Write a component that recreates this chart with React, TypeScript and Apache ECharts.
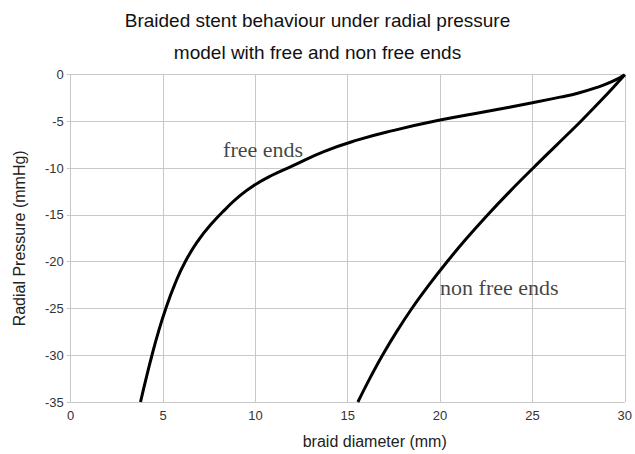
import React, { useEffect, useRef } from "react";
import * as echarts from "echarts";

const titleLines = [
  "Braided stent behaviour under radial pressure",
  "model with free and non free ends",
];
const xAxisName = "braid diameter (mm)";
const yAxisName = "Radial Pressure (mmHg)";

const freeEnds: [number, number][] = [
  [3.78, -35], [4.08, -32.5], [4.4, -30], [4.75, -27.5], [5.15, -25],
  [5.62, -22.5], [6.2, -20], [6.95, -17.6], [7.6, -16.0], [8.37, -14.4],
  [9.15, -12.95], [10.0, -11.75], [10.9, -10.75], [11.95, -9.8], [13.74, -8.2],
  [15.5, -7.0], [17.5, -5.95], [20, -4.85], [22.5, -3.93], [25, -3.0],
  [26.5, -2.4], [27.5, -1.95], [28.5, -1.35], [29.3, -0.75], [30, 0],
];
const nonFreeEnds: [number, number][] = [
  [15.55, -35], [16.19, -32.5], [16.88, -30], [17.64, -27.5], [18.47, -25],
  [19.39, -22.5], [20.38, -20], [21.44, -17.5], [22.57, -15], [23.77, -12.5],
  [25.03, -10], [26.32, -7.5], [27.61, -5], [28.84, -2.5], [30, 0],
];
const annotations = [
  { text: "free ends", x: 8.25, y: -7.97 },
  { text: "non free ends", x: 20.0, y: -22.8 },
];

const gridColor = "#c8c8c8";

export default function App() {
  const ref = useRef<HTMLDivElement>(null);
  useEffect(() => {
    document.body.style.margin = "0";
    const chart = echarts.init(ref.current!, null, { renderer: "svg" });
    chart.setOption({
      animation: false,
      backgroundColor: "#ffffff",
      title: titleLines.map((t, i) => ({
        text: t,
        left: "center",
        top: 11 + i * 32,
        padding: 0,
        textStyle: {
          fontFamily: "Liberation Sans",
          fontSize: 19,
          fontWeight: "normal",
          color: "#111",
        },
      })),
      grid: { left: 70.7, right: 5, top: 74.7, bottom: 50.7 },
      xAxis: {
        type: "value",
        min: 0,
        max: 30,
        interval: 5,
        name: xAxisName,
        nameLocation: "middle",
        nameGap: 31,
        nameTextStyle: {
          fontFamily: "Liberation Sans",
          fontSize: 16,
          color: "#222",
          padding: [0, 0, 0, 54],
        },
        axisLine: { show: true, lineStyle: { color: gridColor, width: 1 } },
        axisTick: { show: true, length: 4, lineStyle: { color: gridColor } },
        splitLine: { show: true, lineStyle: { color: gridColor, width: 1 } },
        axisLabel: {
          margin: 7,
          fontFamily: "Liberation Sans",
          fontSize: 13,
          color: "#333",
          showMaxLabel: true,
        },
      },
      yAxis: {
        type: "value",
        min: -35,
        max: 0,
        interval: 5,
        name: yAxisName,
        nameLocation: "middle",
        nameRotate: 90,
        nameGap: 43,
        nameTextStyle: {
          fontFamily: "Liberation Sans",
          fontSize: 16,
          color: "#222",
        },
        axisLine: { show: true, lineStyle: { color: gridColor, width: 1 } },
        axisTick: { show: true, length: 4, lineStyle: { color: gridColor } },
        splitLine: { show: true, lineStyle: { color: gridColor, width: 1 } },
        axisLabel: {
          margin: 7,
          fontFamily: "Liberation Sans",
          fontSize: 13,
          color: "#333",
        },
      },
      series: [
        {
          type: "line",
          name: "free ends",
          data: freeEnds,
          smooth: 0.5,
          showSymbol: false,
          symbol: "none",
          lineStyle: { color: "#000", width: 3 },
        },
        {
          type: "line",
          name: "non free ends",
          data: nonFreeEnds,
          smooth: 0.4,
          showSymbol: false,
          symbol: "none",
          lineStyle: { color: "#000", width: 3 },
        },
        {
          type: "scatter",
          symbolSize: 0,
          data: annotations.map((a) => ({ value: [a.x, a.y], name: a.text })),
          label: {
            show: true,
            position: "inside",
            align: "left",
            verticalAlign: "middle",
            formatter: (p: any) => p.name,
            fontFamily: "Liberation Serif",
            fontSize: 22,
            color: "#111",
          },
          silent: true,
        },
      ],
    });
    return () => chart.dispose();
  }, []);
  return <div ref={ref} style={{ width: 635, height: 454 }} />;
}
